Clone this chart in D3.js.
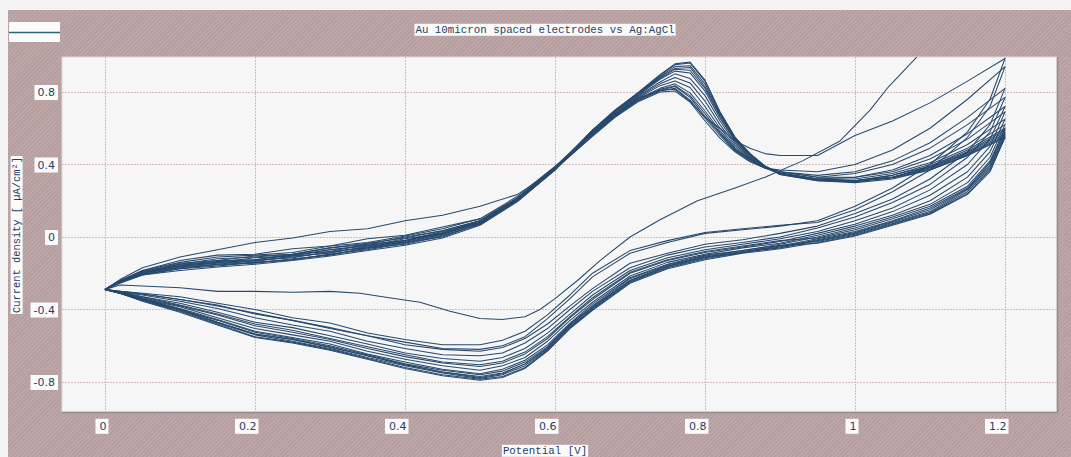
<!DOCTYPE html>
<html>
<head>
<meta charset="utf-8">
<script src="https://cdn.jsdelivr.net/npm/d3@7"></script>
<style>
  html, body { margin: 0; padding: 0; background: #f3f3f3; }
  svg { display: block; }
</style>
</head>
<body>
<svg id="chart" width="1071" height="457"></svg>
<script>
// Potential sweep points [V] for the anodic (forward) and cathodic (reverse) halves of each cycle
const potentialAnodic = [0, 0.02, 0.05, 0.1, 0.15, 0.2, 0.25, 0.3, 0.35, 0.4, 0.45, 0.5, 0.55, 0.6, 0.65, 0.68, 0.71, 0.74, 0.76, 0.78, 0.8, 0.82, 0.84, 0.86, 0.88, 0.9, 0.95, 1.0, 1.05, 1.1, 1.15, 1.2];
const potentialCathodic = [1.2, 1.18, 1.15, 1.1, 1.05, 1.0, 0.95, 0.9, 0.85, 0.8, 0.75, 0.7, 0.65, 0.62, 0.59, 0.56, 0.53, 0.5, 0.45, 0.4, 0.35, 0.3, 0.25, 0.2, 0.15, 0.1, 0.05, 0.02, 0];

// Current density [µA/cm²] per cycle
const cyc00Anodic = [-0.29,-0.235,-0.17,-0.11,-0.07,-0.03,-0.005,0.03,0.045,0.09,0.12,0.17,0.235,0.37,0.575,0.68,0.765,0.81,0.815,0.75,0.66,0.6,0.53,0.49,0.46,0.45,0.45,0.56,0.64,0.74,0.86,0.985];
const cyc00Cathodic = [0.985,0.76,0.58,0.40,0.27,0.17,0.09,0.06,0.04,0.02,-0.03,-0.09,-0.22,-0.34,-0.45,-0.55,-0.6,-0.62,-0.615,-0.58,-0.545,-0.5,-0.46,-0.42,-0.38,-0.345,-0.315,-0.3,-0.29];
const cyc01Anodic = [-0.29,-0.24,-0.185,-0.13,-0.10,-0.095,-0.065,-0.05,-0.01,0.01,0.055,0.10,0.225,0.39,0.57,0.67,0.76,0.82,0.845,0.795,0.695,0.585,0.49,0.43,0.38,0.37,0.36,0.40,0.48,0.60,0.76,0.94];
const cyc01Cathodic = [0.94,0.72,0.55,0.37,0.25,0.15,0.08,0.065,0.045,0.025,-0.02,-0.075,-0.2,-0.32,-0.43,-0.52,-0.57,-0.595,-0.595,-0.565,-0.53,-0.475,-0.445,-0.4,-0.365,-0.33,-0.31,-0.3,-0.29];
const cyc02Anodic = [-0.29,-0.245,-0.185,-0.14,-0.11,-0.1,-0.085,-0.05,-0.03,0.005,0.045,0.1,0.215,0.385,0.565,0.665,0.755,0.81,0.83,0.77,0.665,0.57,0.48,0.425,0.38,0.36,0.34,0.36,0.42,0.52,0.66,0.82];
const cyc02Cathodic = [0.82,0.62,0.47,0.32,0.21,0.13,0.06,0.02,-0.015,-0.04,-0.09,-0.145,-0.285,-0.38,-0.48,-0.56,-0.61,-0.63,-0.62,-0.595,-0.545,-0.505,-0.46,-0.425,-0.375,-0.345,-0.315,-0.3,-0.29];
const cyc03Anodic = [-0.29,-0.245,-0.19,-0.15,-0.12,-0.11,-0.095,-0.06,-0.035,-0.005,0.035,0.09,0.21,0.375,0.555,0.66,0.745,0.80,0.805,0.745,0.64,0.545,0.47,0.415,0.38,0.36,0.33,0.35,0.40,0.49,0.62,0.77];
const cyc03Cathodic = [0.77,0.58,0.44,0.29,0.19,0.11,0.05,0.0,-0.03,-0.055,-0.1,-0.17,-0.3,-0.4,-0.505,-0.585,-0.64,-0.655,-0.65,-0.615,-0.575,-0.52,-0.485,-0.445,-0.395,-0.355,-0.32,-0.305,-0.29];
const cyc04Anodic = [-0.29,-0.25,-0.195,-0.16,-0.13,-0.125,-0.095,-0.08,-0.04,-0.02,0.03,0.08,0.205,0.38,0.57,0.675,0.765,0.835,0.86,0.825,0.72,0.6,0.5,0.435,0.385,0.36,0.33,0.33,0.37,0.45,0.57,0.72];
const cyc04Cathodic = [0.72,0.54,0.40,0.26,0.16,0.09,0.03,-0.01,-0.04,-0.07,-0.115,-0.185,-0.32,-0.425,-0.53,-0.615,-0.665,-0.685,-0.67,-0.64,-0.59,-0.545,-0.5,-0.47,-0.415,-0.365,-0.33,-0.305,-0.29];
const cyc05Anodic = [-0.29,-0.245,-0.2,-0.155,-0.14,-0.115,-0.105,-0.07,-0.05,-0.01,0.02,0.09,0.21,0.385,0.575,0.68,0.77,0.845,0.88,0.85,0.75,0.62,0.51,0.44,0.385,0.355,0.32,0.33,0.36,0.43,0.54,0.69];
const cyc05Cathodic = [0.69,0.5,0.36,0.23,0.14,0.07,0.02,-0.025,-0.055,-0.085,-0.13,-0.2,-0.345,-0.445,-0.56,-0.645,-0.695,-0.715,-0.695,-0.66,-0.615,-0.565,-0.525,-0.49,-0.43,-0.38,-0.335,-0.305,-0.29];
const cyc06Anodic = [-0.29,-0.25,-0.2,-0.165,-0.15,-0.13,-0.115,-0.08,-0.06,-0.025,0.02,0.075,0.205,0.375,0.58,0.685,0.775,0.855,0.9,0.875,0.78,0.64,0.52,0.445,0.385,0.35,0.32,0.32,0.35,0.41,0.51,0.65];
const cyc06Cathodic = [0.65,0.47,0.33,0.2,0.12,0.06,0.01,-0.035,-0.06,-0.095,-0.14,-0.215,-0.36,-0.46,-0.575,-0.665,-0.71,-0.735,-0.71,-0.675,-0.63,-0.575,-0.54,-0.505,-0.445,-0.385,-0.34,-0.305,-0.29];
const cyc07Anodic = [-0.29,-0.245,-0.2,-0.16,-0.145,-0.135,-0.105,-0.09,-0.05,-0.03,0.015,0.08,0.2,0.37,0.585,0.69,0.78,0.87,0.915,0.905,0.805,0.655,0.53,0.45,0.39,0.35,0.32,0.31,0.34,0.40,0.49,0.62];
const cyc07Cathodic = [0.62,0.44,0.30,0.18,0.11,0.05,0.0,-0.04,-0.075,-0.1,-0.15,-0.225,-0.37,-0.475,-0.595,-0.68,-0.73,-0.755,-0.73,-0.69,-0.645,-0.59,-0.555,-0.52,-0.455,-0.395,-0.34,-0.31,-0.29];
const cyc08Anodic = [-0.29,-0.25,-0.21,-0.175,-0.15,-0.145,-0.12,-0.1,-0.06,-0.04,0.005,0.07,0.2,0.37,0.585,0.69,0.785,0.875,0.925,0.92,0.82,0.665,0.535,0.455,0.39,0.35,0.315,0.31,0.33,0.39,0.47,0.59];
const cyc08Cathodic = [0.59,0.41,0.27,0.16,0.09,0.03,-0.01,-0.05,-0.08,-0.11,-0.16,-0.24,-0.385,-0.49,-0.61,-0.7,-0.75,-0.77,-0.745,-0.705,-0.655,-0.605,-0.565,-0.535,-0.47,-0.4,-0.345,-0.31,-0.29];
const cyc09Anodic = [-0.29,-0.25,-0.205,-0.17,-0.155,-0.14,-0.125,-0.095,-0.065,-0.03,0.0,0.075,0.205,0.38,0.59,0.695,0.79,0.885,0.94,0.945,0.845,0.68,0.545,0.455,0.39,0.35,0.315,0.305,0.33,0.38,0.46,0.57];
const cyc09Cathodic = [0.57,0.39,0.26,0.14,0.08,0.02,-0.02,-0.06,-0.085,-0.12,-0.17,-0.25,-0.4,-0.5,-0.625,-0.72,-0.77,-0.785,-0.76,-0.72,-0.67,-0.62,-0.58,-0.55,-0.48,-0.41,-0.35,-0.31,-0.29];
const cyc10Anodic = [-0.29,-0.255,-0.21,-0.185,-0.165,-0.15,-0.13,-0.105,-0.075,-0.045,-0.005,0.065,0.195,0.37,0.59,0.70,0.79,0.89,0.95,0.96,0.86,0.69,0.55,0.46,0.39,0.345,0.31,0.30,0.32,0.37,0.45,0.55];
const cyc10Cathodic = [0.55,0.37,0.24,0.13,0.07,0.01,-0.03,-0.065,-0.09,-0.125,-0.175,-0.255,-0.405,-0.505,-0.63,-0.725,-0.775,-0.79,-0.765,-0.725,-0.675,-0.625,-0.585,-0.555,-0.485,-0.415,-0.355,-0.31,-0.29];
const cyc11Anodic = [-0.29,-0.24,-0.195,-0.15,-0.135,-0.125,-0.1,-0.07,-0.045,-0.02,0.025,0.085,0.215,0.385,0.585,0.695,0.785,0.88,0.93,0.935,0.83,0.675,0.54,0.455,0.39,0.35,0.315,0.31,0.33,0.375,0.455,0.56];
const cyc11Cathodic = [0.56,0.38,0.25,0.135,0.075,0.015,-0.025,-0.045,-0.075,-0.105,-0.155,-0.23,-0.38,-0.48,-0.605,-0.69,-0.74,-0.76,-0.735,-0.7,-0.65,-0.6,-0.56,-0.525,-0.46,-0.4,-0.345,-0.31,-0.29];
const cyc12Anodic = [-0.29,-0.25,-0.2,-0.165,-0.14,-0.13,-0.11,-0.085,-0.055,-0.02,0.015,0.08,0.205,0.375,0.56,0.665,0.75,0.805,0.82,0.755,0.655,0.56,0.475,0.42,0.38,0.35,0.32,0.31,0.34,0.39,0.48,0.60];
const cyc12Cathodic = [0.60,0.42,0.28,0.17,0.10,0.04,-0.005,-0.02,-0.05,-0.08,-0.125,-0.195,-0.335,-0.44,-0.55,-0.635,-0.685,-0.705,-0.69,-0.65,-0.605,-0.56,-0.515,-0.48,-0.425,-0.375,-0.33,-0.305,-0.29];
const cyc13Anodic = [-0.29,-0.245,-0.19,-0.145,-0.13,-0.105,-0.095,-0.06,-0.04,0.0,0.035,0.09,0.215,0.385,0.565,0.67,0.755,0.815,0.835,0.78,0.68,0.575,0.485,0.43,0.38,0.35,0.315,0.31,0.33,0.385,0.465,0.58];
const cyc13Cathodic = [0.58,0.40,0.265,0.15,0.085,0.025,-0.015,-0.055,-0.085,-0.115,-0.165,-0.245,-0.395,-0.495,-0.62,-0.71,-0.76,-0.78,-0.75,-0.71,-0.665,-0.615,-0.575,-0.54,-0.475,-0.405,-0.35,-0.31,-0.29];
const cyc14Anodic = [-0.29,-0.25,-0.205,-0.175,-0.16,-0.14,-0.125,-0.095,-0.07,-0.035,0.01,0.07,0.2,0.37,0.59,0.70,0.795,0.895,0.955,0.965,0.865,0.69,0.55,0.46,0.39,0.345,0.31,0.305,0.325,0.37,0.45,0.55];
const cyc14Cathodic = [0.55,0.36,0.235,0.125,0.065,0.005,-0.035,-0.05,-0.085,-0.11,-0.16,-0.24,-0.39,-0.485,-0.615,-0.7,-0.755,-0.775,-0.745,-0.705,-0.655,-0.61,-0.565,-0.535,-0.47,-0.4,-0.345,-0.31,-0.29];

// Initial conditioning scan
const firstScanPotential = [0.0, 0.02, 0.05, 0.1, 0.15, 0.2, 0.25, 0.3, 0.34, 0.37, 0.42, 0.46, 0.5, 0.53, 0.56, 0.58, 0.6, 0.63, 0.66, 0.7, 0.74, 0.79, 0.84, 0.88, 0.93, 0.98, 1.02, 1.045, 1.084, 1.11];
const firstScanCurrent = [-0.29, -0.265, -0.27, -0.28, -0.3, -0.3, -0.305, -0.3, -0.31, -0.33, -0.36, -0.41, -0.45, -0.455, -0.44, -0.4, -0.34, -0.24, -0.13, 0.0, 0.095, 0.2, 0.27, 0.33, 0.42, 0.53, 0.7, 0.83, 1.0, 1.12];

const xTickValues = [0, 0.2, 0.4, 0.6, 0.8, 1.0, 1.2];
const xTickLabels = ["0", "0.2", "0.4", "0.6", "0.8", "1", "1.2"];
const yTickValues = [-0.8, -0.4, 0, 0.4, 0.8];
const yTickLabels = ["-0.8", "-0.4", "0", "0.4", "0.8"];

const chartTitle = "Au 10micron spaced electrodes vs Ag:AgCl";
const xAxisTitle = "Potential [V]";
const yAxisTitle = "Current density [ \u00b5A/cm\u00b2]";

const cycles = [
  [cyc00Anodic, cyc00Cathodic], [cyc01Anodic, cyc01Cathodic], [cyc02Anodic, cyc02Cathodic],
  [cyc03Anodic, cyc03Cathodic], [cyc04Anodic, cyc04Cathodic], [cyc05Anodic, cyc05Cathodic],
  [cyc06Anodic, cyc06Cathodic], [cyc07Anodic, cyc07Cathodic], [cyc08Anodic, cyc08Cathodic],
  [cyc09Anodic, cyc09Cathodic], [cyc10Anodic, cyc10Cathodic], [cyc11Anodic, cyc11Cathodic],
  [cyc12Anodic, cyc12Cathodic], [cyc13Anodic, cyc13Cathodic], [cyc14Anodic, cyc14Cathodic]
];

// ---- layout ----
const W = 1071, H = 457;
const plot = { left: 62, right: 1057, top: 57, bottom: 412 };
const ink = "#1f3f66";
const traceColor = "#27496d";
const monoFont = "'Liberation Mono', 'DejaVu Sans Mono', monospace";
const labelFont = "'DejaVu Sans', Verdana, sans-serif";

const svg = d3.select("#chart");
const defs = svg.append("defs");

// fine hatched frame background
const hatch = defs.append("pattern")
  .attr("id", "hatch").attr("patternUnits", "userSpaceOnUse")
  .attr("width", 3).attr("height", 3)
  .attr("patternTransform", "rotate(45)");
hatch.append("rect").attr("width", 3).attr("height", 3).attr("fill", "#c1abab");
hatch.append("rect").attr("width", 1.5).attr("height", 3).attr("fill", "#b29a9b");

defs.append("clipPath").attr("id", "plotClip")
  .append("rect")
  .attr("x", plot.left).attr("y", plot.top)
  .attr("width", plot.right - plot.left).attr("height", plot.bottom - plot.top);

svg.append("rect").attr("width", W).attr("height", H).attr("fill", "#f3f3f3");
svg.append("rect").attr("x", 8).attr("y", 10).attr("width", W - 8).attr("height", H - 10)
  .attr("fill", "url(#hatch)");

// plotting area
svg.append("rect")
  .attr("x", plot.left).attr("y", plot.top)
  .attr("width", plot.right - plot.left).attr("height", plot.bottom - plot.top)
  .attr("fill", "#f7f6f6").attr("stroke", "#e2d8d8").attr("stroke-width", 1);
svg.append("path")
  .attr("d", `M${plot.left},${plot.bottom + 0.5}H${plot.right + 0.5}V${plot.top}`)
  .attr("fill", "none").attr("stroke", "#968c8c").attr("stroke-width", 1.5);

const x = d3.scaleLinear().domain([-0.0573, 1.2693]).range([plot.left, plot.right]);
const y = d3.scaleLinear().domain([-0.9655, 0.993]).range([plot.bottom, plot.top]);

// grid
const grid = svg.append("g").attr("stroke", "#d6bcb8").attr("stroke-width", 1)
  .attr("stroke-dasharray", "2,1");
grid.selectAll("line.v").data(xTickValues).join("line").attr("class", "v")
  .attr("x1", d => Math.round(x(d)) + 0.5).attr("x2", d => Math.round(x(d)) + 0.5)
  .attr("y1", plot.top).attr("y2", plot.bottom);
grid.selectAll("line.h").data(yTickValues).join("line").attr("class", "h")
  .attr("y1", d => Math.round(y(d)) + 0.5).attr("y2", d => Math.round(y(d)) + 0.5)
  .attr("x1", plot.left).attr("x2", plot.right);

// voltammogram traces
const traces = svg.append("g").attr("clip-path", "url(#plotClip)")
  .attr("fill", "none").attr("stroke", traceColor).attr("stroke-width", 1.05)
  .attr("stroke-linejoin", "round");

const line = d3.line().x(d => x(d[0])).y(d => y(d[1]));
cycles.forEach(([an, ca]) => {
  const pts = potentialAnodic.map((e, i) => [e, an[i]])
    .concat(potentialCathodic.map((e, i) => [e, ca[i]]));
  traces.append("path").attr("d", line(pts));
});
traces.append("path")
  .attr("d", line(firstScanPotential.map((e, i) => [e, firstScanCurrent[i]])));

// axes (labels on white tags)
function tagLabels(g, anchor) {
  g.select(".domain").remove();
  g.selectAll(".tick line").remove();
  g.selectAll(".tick text")
    .attr("fill", ink).attr("font-family", labelFont).attr("font-size", 11)
    .attr("text-anchor", anchor);
  g.selectAll(".tick").each(function () {
    const t = d3.select(this).select("text");
    const b = t.node().getBBox();
    d3.select(this).insert("rect", "text")
      .attr("x", b.x - 3).attr("y", b.y - 1)
      .attr("width", b.width + 6).attr("height", b.height + 2)
      .attr("fill", "#fbfbfb");
  });
}

const xAxis = d3.axisBottom(x).tickValues(xTickValues)
  .tickFormat((d, i) => xTickLabels[i]).tickSize(0).tickPadding(0);
svg.append("g").attr("transform", `translate(0,${plot.bottom + 10})`)
  .call(xAxis)
  .call(g => g.selectAll(".tick text").attr("dy", "0.71em"))
  .call(g => tagLabels(g, "end"))
  .call(g => g.selectAll(".tick text").attr("x", 1));

const yAxis = d3.axisLeft(y).tickValues(yTickValues)
  .tickFormat((d, i) => yTickLabels[i]).tickSize(0).tickPadding(0);
svg.append("g").attr("transform", `translate(${plot.left - 7},0)`)
  .call(yAxis)
  .call(g => tagLabels(g, "end"));

// titles on white tags
function tag(text, cx, cy, rotate, size) {
  const g = svg.append("g").attr("transform", `translate(${cx},${cy}) rotate(${rotate})`);
  const t = g.append("text").text(text)
    .attr("font-family", monoFont).attr("font-size", size)
    .attr("fill", ink).attr("text-anchor", "middle").attr("dy", "0.35em");
  const b = t.node().getBBox();
  g.insert("rect", "text")
    .attr("x", b.x - 1).attr("y", b.y)
    .attr("width", b.width + 2).attr("height", b.height)
    .attr("fill", "#fbfbfb");
}
tag(chartTitle, 545, 29, 0, 10.8);
tag(yAxisTitle, 16, 235, -90, 10.4);
tag(xAxisTitle, 545, 450, 0, 10.8);

// legend swatch
svg.append("rect").attr("x", 9).attr("y", 22).attr("width", 51).attr("height", 20).attr("fill", "#fbfbfb");
svg.append("line").attr("x1", 9).attr("x2", 60).attr("y1", 32.5).attr("y2", 32.5)
  .attr("stroke", "#2b6378").attr("stroke-width", 1.5);
</script>
</body>
</html>
